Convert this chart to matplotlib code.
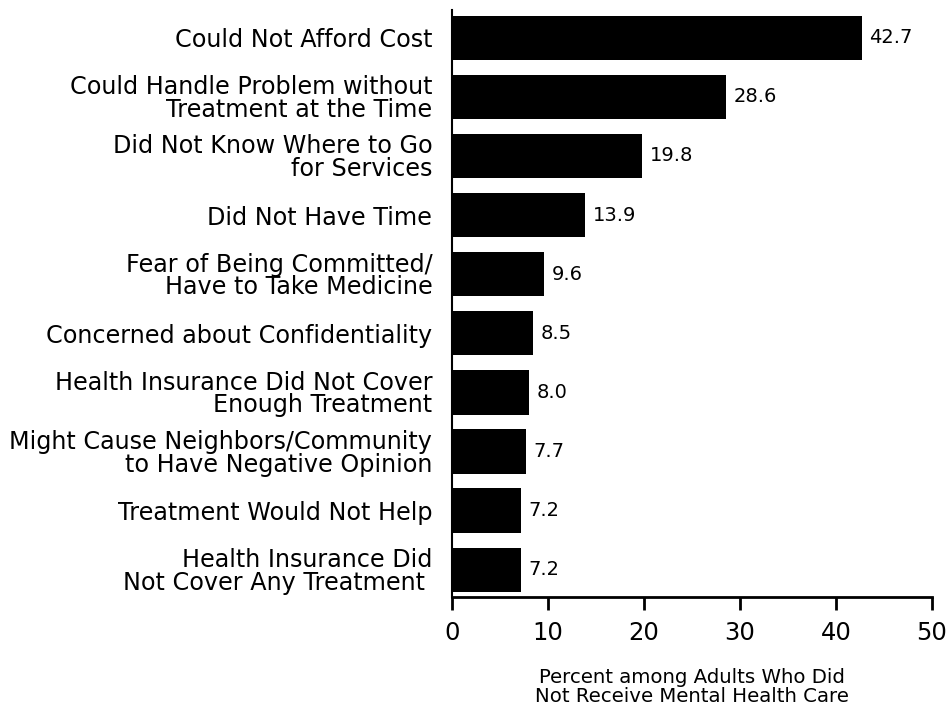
import matplotlib.pyplot as plt
import numpy as np

plt.rcParams['font.family'] = ['DejaVu Sans']

reasons = [
    "Could Not Afford Cost",
    "Could Handle Problem without\nTreatment at the Time",
    "Did Not Know Where to Go\nfor Services",
    "Did Not Have Time",
    "Fear of Being Committed/\nHave to Take Medicine",
    "Concerned about Confidentiality",
    "Health Insurance Did Not Cover\nEnough Treatment",
    "Might Cause Neighbors/Community\nto Have Negative Opinion",
    "Treatment Would Not Help",
    "Health Insurance Did\nNot Cover Any Treatment ",
]
percents = [42.7, 28.6, 19.8, 13.9, 9.6, 8.5, 8.0, 7.7, 7.2, 7.2]
xticks = [0, 10, 20, 30, 40, 50]

fig = plt.figure(figsize=(9.47, 7.09), dpi=100)
ax = fig.add_axes([0.477, 0.158, 0.507, 0.828])

y = np.arange(len(reasons))
ax.barh(y, percents, height=0.75, color='black')

for yi, v in zip(y, percents):
    ax.text(v + 0.8, yi, "%.1f" % v, va='center', ha='left', fontsize=14)

ax.set_ylim(9.46, -0.47)
ax.set_xlim(0, 50)
ax.set_yticks(y)
ax.set_yticklabels(reasons, fontsize=17.2, ha='right', linespacing=0.92)
ax.tick_params(axis='y', length=0, pad=14)
ax.set_xticks(xticks)
ax.set_xticklabels([str(t) for t in xticks], fontsize=17.5)
ax.tick_params(axis='x', direction='out', length=9, width=2, pad=8)

ax.spines['top'].set_visible(False)
ax.spines['right'].set_visible(False)
ax.spines['bottom'].set_linewidth(2)
ax.spines['left'].set_linewidth(1.5)

ax.set_xlabel("Percent among Adults Who Did\nNot Receive Mental Health Care",
              fontsize=14.2, labelpad=17, linespacing=1.0)

fig.savefig("out.png", dpi=100)
